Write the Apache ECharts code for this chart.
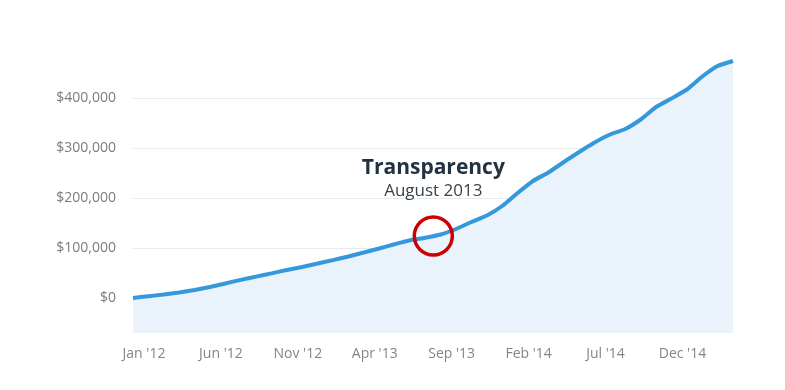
<!DOCTYPE html>
<html>
<head>
<meta charset="utf-8">
<script src="https://cdn.jsdelivr.net/npm/echarts@6/dist/echarts.min.js"></script>
<style>
html,body{margin:0;padding:0;background:#fff;}
#chart{width:785px;height:390px;}
</style>
</head>
<body>
<div id="chart"></div>
<script>
// Monthly categories Jan '12 .. Apr '15
const months = ["Jan '12","Feb '12","Mar '12","Apr '12","May '12","Jun '12","Jul '12","Aug '12","Sep '12","Oct '12","Nov '12","Dec '12",
  "Jan '13","Feb '13","Mar '13","Apr '13","May '13","Jun '13","Jul '13","Aug '13","Sep '13","Oct '13","Nov '13","Dec '13",
  "Jan '14","Feb '14","Mar '14","Apr '14","May '14","Jun '14","Jul '14","Aug '14","Sep '14","Oct '14","Nov '14","Dec '14",
  "Jan '15","Feb '15","Mar '15","Apr '15"];
// Cumulative revenue (USD)
const revenue = [0, 3500, 7000, 11000, 16000, 21900, 29000, 36300, 42800, 49300, 56000, 62000,
  69000, 75800, 83000, 90900, 99000, 107500, 115500, 120500, 127000, 138000, 152000, 165000,
  184000, 210000, 234000, 251000, 272000, 292000, 311000, 327000, 338000, 357000, 382000, 399000,
  417000, 443000, 464000, 474000];
// Annotation
const annotationMonth = "Aug '13";
const annotationValue = 124000;
const annotationTitle = "Transparency";
const annotationSubtitle = "August 2013";

const chart = echarts.init(document.getElementById('chart'));
const annIdx = months.indexOf(annotationMonth);
chart.setOption({
  animation: false,
  grid: {left: 133, right: 52, top: 58, bottom: 57},
  xAxis: {
    type: 'category',
    data: months,
    boundaryGap: false,
    axisLine: {show: false},
    axisTick: {show: false},
    splitLine: {show: false},
    axisLabel: {
      interval: 4,
      margin: 14,
      color: '#7f868c',
      fontFamily: 'Open Sans',
      fontSize: 14,
      padding: [0, 0, 0, 22]
    }
  },
  yAxis: {
    type: 'value',
    min: -70000,
    max: 480000,
    minInterval: 100000,
    maxInterval: 100000,
    splitNumber: 5,
    axisLine: {show: false},
    axisTick: {show: false},
    axisLabel: {
      margin: 17,
      color: '#767d83',
      fontFamily: 'Open Sans',
      fontSize: 14,
      showMinLabel: false,
      showMaxLabel: false,
      formatter: v => (v < 0 || v % 100000 !== 0) ? '' : '$' + v.toLocaleString('en-US')
    },
    splitLine: {
      show: true,
      showMinLine: false,
      showMaxLine: false,
      lineStyle: {color: 'rgba(185,205,222,0.38)', width: 1}
    }
  },
  series: [
    {
      type: 'line',
      data: revenue,
      symbol: 'none',
      smooth: 0.15,
      lineStyle: {color: '#3498db', width: 4},
      areaStyle: {color: '#eaf3fb', opacity: 1, origin: 'start'},
      z: 2
    },
    {
      type: 'scatter',
      data: [[annIdx, annotationValue]],
      symbol: 'circle',
      symbolSize: 38,
      symbolOffset: [8, 0],
      itemStyle: {color: 'rgba(0,0,0,0)', borderColor: '#cc0000', borderWidth: 3.5, opacity: 1},
      label: {
        show: true,
        position: 'top',
        distance: 13,
        align: 'center',
        formatter: '{t|' + annotationTitle + '}\n{s|' + annotationSubtitle + '}',
        rich: {
          t: {fontFamily: 'Open Sans', fontSize: 21, fontWeight: 'bold', color: '#233140', lineHeight: 24, align: 'center'},
          s: {fontFamily: 'Open Sans', fontSize: 17, color: '#3a4249', lineHeight: 22, align: 'center'}
        }
      },
      z: 5
    }
  ]
});
</script>
</body>
</html>
